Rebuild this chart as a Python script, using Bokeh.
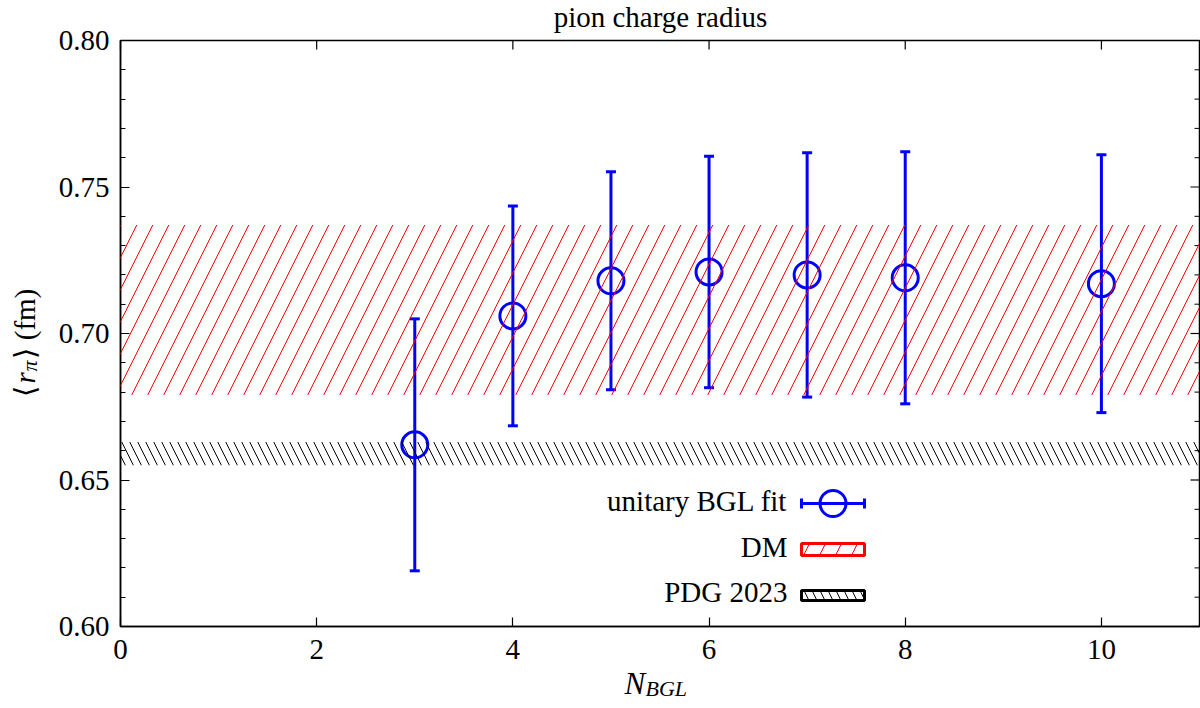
from math import pi

from bokeh.embed import file_html
from bokeh.models import (BoxAnnotation, ColumnDataSource, FixedTicker, Label,
                          LinearAxis, PrintfTickFormatter, Range1d, TeeHead,
                          Whisker)
from bokeh.plotting import figure
from bokeh.resources import INLINE

# ---- data -------------------------------------------------------------
n_bgl = [3, 4, 5, 6, 7, 8, 10]
radius = [0.662, 0.706, 0.718, 0.721, 0.720, 0.719, 0.717]
radius_err = [0.043, 0.0375, 0.0372, 0.0395, 0.0417, 0.043, 0.044]

dm_value, dm_err = 0.708, 0.029      # dispersive-matrix band
pdg_value, pdg_err = 0.659, 0.004    # PDG 2023 band

x_ticks = [0, 2, 4, 6, 8, 10]
y_ticks = [0.60, 0.65, 0.70, 0.75, 0.80]
y_minor = [round(0.60 + 0.01 * i, 2) for i in range(21) if i % 5]

legend_labels = ["unitary BGL fit", "DM", "PDG 2023"]

# ---- layout / style ---------------------------------------------------
W, H = 1200, 708
# plot box in canvas pixels
PX_L, PX_R, PX_T, PX_B = 120, 1199, 40, 626
X0, X1 = 0.0, 11.0
Y0, Y1 = 0.60, 0.80
FONT = "Liberation Serif"
FS = "29px"
FS_SUB = "22px"
BLUE, RED, BLACK = "#0000ff", "#ff0000", "#000000"
TXT_SHIFT = 10   # label anchor vs. drawn baseline, in pixels

SX = (X1 - X0) / (PX_R - PX_L)
SY = (Y1 - Y0) / (PX_B - PX_T)


def px_x(px):
    return X0 + (px - PX_L) * SX


def px_y(py):
    return Y0 + (PX_B - py) * SY


# the frame fills the whole canvas; the plot box is drawn inside it
p = figure(width=W, height=H, output_backend="svg", toolbar_location=None,
           x_range=Range1d(px_x(0), px_x(W)), y_range=Range1d(px_y(H), px_y(0)),
           x_axis_type=None, y_axis_type=None, min_border=0)
p.grid.visible = False
p.outline_line_color = None
p.background_fill_color = "white"
p.border_fill_color = "white"


def style_axis(ax, ticker, minor):
    ax.ticker = ticker
    ax.axis_line_color = BLACK
    ax.axis_line_width = 1.5
    ax.major_tick_in = 9
    ax.major_tick_out = 0
    ax.major_tick_line_color = BLACK
    ax.major_tick_line_width = 1.2
    ax.minor_tick_in = 5 if minor else 0
    ax.minor_tick_out = 0
    ax.minor_tick_line_color = BLACK if minor else None
    ax.minor_tick_line_width = 1.0
    ax.major_label_text_font = FONT
    ax.major_label_text_font_size = FS
    ax.major_label_text_color = BLACK


xaxis = LinearAxis(fixed_location=Y0, bounds=(X0, X1))
style_axis(xaxis, FixedTicker(ticks=x_ticks, minor_ticks=[]), False)
xaxis.major_label_standoff = 13
p.add_layout(xaxis, "below")

yaxis = LinearAxis(fixed_location=X0, bounds=(Y0, Y1))
style_axis(yaxis, FixedTicker(ticks=y_ticks, minor_ticks=y_minor), True)
yaxis.major_label_standoff = 11
yaxis.formatter = PrintfTickFormatter(format="%.2f")
p.add_layout(yaxis, "left")

# box border and mirrored ticks on the top and right sides
p.quad(left=[X0], right=[X1], bottom=[Y0], top=[Y1], fill_color=None,
       line_color=BLACK, line_width=1.5)
p.ray(x=x_ticks, y=[Y1] * len(x_ticks), length=9, length_units="screen",
      angle=-pi / 2, line_color=BLACK, line_width=1.2)
p.ray(x=[X1] * len(y_ticks), y=y_ticks, length=9, length_units="screen",
      angle=pi, line_color=BLACK, line_width=1.2)
p.ray(x=[X1] * len(y_minor), y=y_minor, length=5, length_units="screen",
      angle=pi, line_color=BLACK, line_width=1.0)

# ---- bands ------------------------------------------------------------
p.add_layout(BoxAnnotation(left=X0, right=X1,
                           bottom=dm_value - dm_err, top=dm_value + dm_err,
                           fill_alpha=0, line_color=None,
                           hatch_pattern="/", hatch_color=RED,
                           hatch_scale=32, hatch_weight=1.0))
p.add_layout(BoxAnnotation(left=X0, right=X1,
                           bottom=pdg_value - pdg_err, top=pdg_value + pdg_err,
                           fill_alpha=0, line_color=None,
                           hatch_pattern="\\", hatch_color=BLACK,
                           hatch_scale=16, hatch_weight=1.0))

# ---- fit points with error bars ----------------------------------------
src = ColumnDataSource(dict(
    n=n_bgl, r=radius,
    lo=[v - e for v, e in zip(radius, radius_err)],
    hi=[v + e for v, e in zip(radius, radius_err)],
))
p.add_layout(Whisker(source=src, base="n", lower="lo", upper="hi",
                     line_color=BLUE, line_width=3,
                     lower_head=TeeHead(size=10, line_color=BLUE, line_width=3),
                     upper_head=TeeHead(size=10, line_color=BLUE, line_width=3)))
p.scatter("n", "r", source=src, marker="circle", size=26,
          fill_color=None, line_color=BLUE, line_width=3)


def hlabel(txt, px, py, size=FS, style="normal", align="left"):
    p.add_layout(Label(x=px_x(px), y=px_y(py - TXT_SHIFT), text=txt,
                       text_align=align, text_baseline="alphabetic",
                       text_font=FONT, text_font_style=style,
                       text_font_size=size, text_color=BLACK))


# ---- key (text right-aligned, sample on the right) ----------------------
key_text_x = 787
key_rows = [510, 556, 601]
sx0, sx1 = 801, 864

for lab, base in zip(legend_labels, key_rows):
    hlabel(lab, key_text_x, base, align="right")

key_src = ColumnDataSource(dict(y=[px_y(503)], x0=[px_x(sx0)], x1=[px_x(sx1)],
                                xc=[px_x((sx0 + sx1) / 2)]))
p.add_layout(Whisker(source=key_src, base="y", lower="x0", upper="x1",
                     dimension="width", line_color=BLUE, line_width=3,
                     lower_head=TeeHead(size=10, line_color=BLUE, line_width=3),
                     upper_head=TeeHead(size=10, line_color=BLUE, line_width=3)))
p.scatter("xc", "y", source=key_src, marker="circle", size=26,
          fill_color=None, line_color=BLUE, line_width=3)

p.quad(left=[px_x(sx0)], right=[px_x(sx1)], bottom=[px_y(555)], top=[px_y(543)],
       fill_color=None, line_color=RED, line_width=3,
       hatch_pattern="/", hatch_color=RED, hatch_scale=32, hatch_weight=1.0)
p.quad(left=[px_x(sx0)], right=[px_x(sx1)], bottom=[px_y(600)], top=[px_y(590)],
       fill_color=None, line_color=BLACK, line_width=3,
       hatch_pattern="\\", hatch_color=BLACK, hatch_scale=16, hatch_weight=1.0)

# ---- title and axis labels --------------------------------------------
hlabel("pion charge radius", 660, 26, align="center")

# x label: N with subscript BGL
hlabel("N", 624, 693, size="31px", style="italic")
hlabel("BGL", 645, 698, size=FS_SUB, style="italic")

# y label: <r_pi> (fm), rotated
ylab = [("⟨", "normal", FS, 34, 396),
        ("r", "italic", FS, 34, 383),
        ("π", "italic", FS_SUB, 39, 371),
        ("⟩ (fm)", "normal", FS, 34, 358)]
for txt, style, size, bx, by in ylab:
    p.add_layout(Label(x=px_x(bx - TXT_SHIFT), y=px_y(by), text=txt,
                       angle=pi / 2, text_align="left",
                       text_baseline="alphabetic", text_font=FONT,
                       text_font_style=style, text_font_size=size,
                       text_color=BLACK))

open("out.html", "w").write(file_html(p, INLINE))
